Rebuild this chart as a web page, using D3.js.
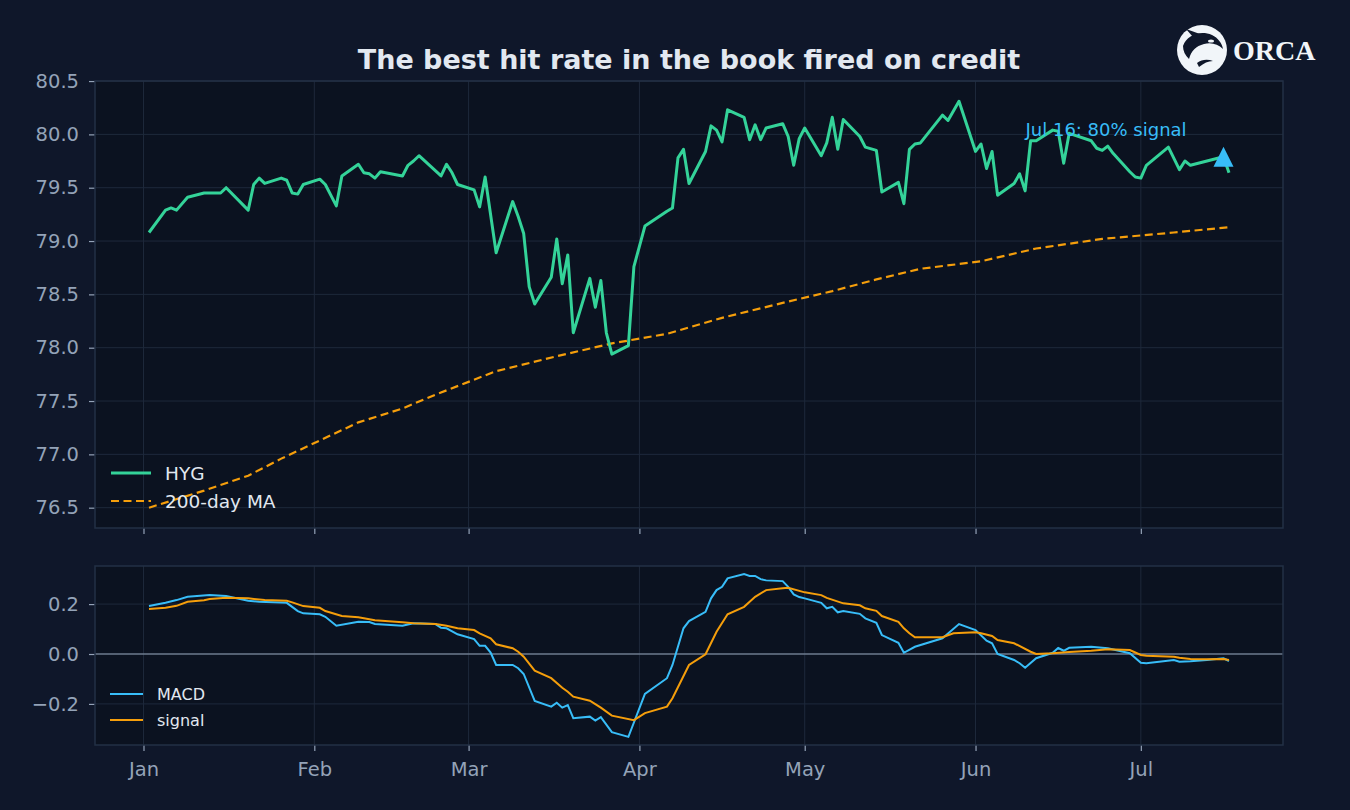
<!DOCTYPE html>
<html>
<head>
<meta charset="utf-8">
<script src="https://cdn.jsdelivr.net/npm/d3@7"></script>
<style>
  html, body { margin: 0; padding: 0; background: #0f172a; }
  svg { display: block; font-family: "DejaVu Sans", sans-serif; }
</style>
</head>
<body>
<svg width="1350" height="810"></svg>
<script>
// HYG price (trading days, 2026)
const hygDates = [
  "2026-01-02","2026-01-05","2026-01-06","2026-01-07","2026-01-09","2026-01-12","2026-01-15","2026-01-16",
  "2026-01-20","2026-01-21","2026-01-22","2026-01-23","2026-01-26","2026-01-27","2026-01-28","2026-01-29",
  "2026-01-30","2026-02-02","2026-02-03","2026-02-05","2026-02-06","2026-02-09","2026-02-10","2026-02-11",
  "2026-02-12","2026-02-13","2026-02-17","2026-02-18","2026-02-19","2026-02-20","2026-02-24","2026-02-25",
  "2026-02-26","2026-02-27","2026-03-02","2026-03-03","2026-03-04","2026-03-06","2026-03-09","2026-03-10",
  "2026-03-11","2026-03-12","2026-03-13","2026-03-16","2026-03-17","2026-03-18","2026-03-19","2026-03-20",
  "2026-03-23","2026-03-24","2026-03-25","2026-03-26","2026-03-27","2026-03-30","2026-03-31","2026-04-01",
  "2026-04-02","2026-04-06","2026-04-07","2026-04-08","2026-04-09","2026-04-10","2026-04-13","2026-04-14",
  "2026-04-15","2026-04-16","2026-04-17","2026-04-20","2026-04-21","2026-04-22","2026-04-23","2026-04-24",
  "2026-04-27","2026-04-28","2026-04-29","2026-04-30","2026-05-01","2026-05-04","2026-05-05","2026-05-06",
  "2026-05-07","2026-05-08","2026-05-11","2026-05-12","2026-05-14","2026-05-15","2026-05-18","2026-05-19",
  "2026-05-20","2026-05-21","2026-05-22","2026-05-26","2026-05-27","2026-05-29","2026-06-01","2026-06-02",
  "2026-06-03","2026-06-04","2026-06-05","2026-06-08","2026-06-09","2026-06-10","2026-06-11","2026-06-12",
  "2026-06-15","2026-06-16","2026-06-17","2026-06-18","2026-06-22","2026-06-23","2026-06-24","2026-06-25",
  "2026-06-26","2026-06-29","2026-06-30","2026-07-01","2026-07-02","2026-07-06","2026-07-08","2026-07-09",
  "2026-07-10","2026-07-16","2026-07-17"
];
const hygValues = [
  79.08, 79.29, 79.31, 79.29, 79.41, 79.45, 79.45, 79.50,
  79.29, 79.53, 79.59, 79.54, 79.59, 79.57, 79.45, 79.44,
  79.53, 79.58, 79.53, 79.33, 79.61, 79.72, 79.64, 79.63,
  79.59, 79.65, 79.61, 79.71, 79.75, 79.80, 79.61, 79.72,
  79.64, 79.53, 79.48, 79.32, 79.60, 78.89, 79.37, 79.23,
  79.07, 78.57, 78.41, 78.66, 79.02, 78.60, 78.87, 78.14,
  78.65, 78.38, 78.63, 78.14, 77.94, 78.02, 78.76, 78.95,
  79.14, 79.28, 79.31, 79.78, 79.86, 79.54, 79.84, 80.08,
  80.04, 79.93, 80.23, 80.16, 79.95, 80.09, 79.95, 80.06,
  80.10, 79.98, 79.71, 79.96, 80.06, 79.80, 79.92, 80.16,
  79.86, 80.14, 79.98, 79.88, 79.85, 79.46, 79.55, 79.35,
  79.86, 79.91, 79.92, 80.18, 80.13, 80.31, 79.84, 79.91,
  79.68, 79.84, 79.43, 79.54, 79.63, 79.47, 79.94, 79.94,
  80.04, 80.03, 79.73, 80.01, 79.94, 79.87, 79.85, 79.89,
  79.82, 79.65, 79.60, 79.59, 79.71, 79.88, 79.67, 79.75,
  79.71, 79.79, 79.64
];

// 200-day moving average
const maDates = [
  "2026-01-02","2026-01-12","2026-01-20","2026-01-26","2026-02-02","2026-02-09","2026-02-17","2026-02-23",
  "2026-03-06","2026-03-17","2026-03-27","2026-04-06","2026-04-16","2026-04-27","2026-05-06","2026-05-14",
  "2026-05-22","2026-06-02","2026-06-12","2026-06-24","2026-07-07","2026-07-17"
];
const maValues = [
  76.50, 76.66, 76.80, 76.96, 77.13, 77.30, 77.43, 77.56,
  77.78, 77.92, 78.04, 78.13, 78.28, 78.42, 78.53, 78.64,
  78.74, 78.81, 78.93, 79.02, 79.08, 79.13
];

// MACD line
const macdDates = [
  "2026-01-02","2026-01-05","2026-01-07","2026-01-09","2026-01-13","2026-01-16","2026-01-20","2026-01-22",
  "2026-01-27","2026-01-29","2026-01-30","2026-02-02","2026-02-03","2026-02-05","2026-02-09","2026-02-11",
  "2026-02-12","2026-02-17","2026-02-19","2026-02-23","2026-02-24","2026-02-25","2026-02-27","2026-03-02",
  "2026-03-03","2026-03-04","2026-03-05","2026-03-06","2026-03-09","2026-03-10","2026-03-11","2026-03-13",
  "2026-03-16","2026-03-17","2026-03-18","2026-03-19","2026-03-20","2026-03-23","2026-03-24","2026-03-25",
  "2026-03-27","2026-03-30","2026-04-02","2026-04-06","2026-04-07","2026-04-09","2026-04-10","2026-04-13",
  "2026-04-14","2026-04-15","2026-04-16","2026-04-17","2026-04-20","2026-04-21","2026-04-22","2026-04-23",
  "2026-04-24","2026-04-27","2026-04-28","2026-04-29","2026-04-30","2026-05-01","2026-05-04","2026-05-05",
  "2026-05-06","2026-05-07","2026-05-08","2026-05-11","2026-05-12","2026-05-14","2026-05-15","2026-05-18",
  "2026-05-19","2026-05-21","2026-05-26","2026-05-29","2026-06-01","2026-06-03","2026-06-04","2026-06-05",
  "2026-06-08","2026-06-09","2026-06-10","2026-06-12","2026-06-15","2026-06-16","2026-06-17","2026-06-18",
  "2026-06-22","2026-06-25","2026-06-29","2026-07-01","2026-07-02","2026-07-07","2026-07-08","2026-07-10",
  "2026-07-13","2026-07-16","2026-07-17"
];
const macdValues = [
  0.192, 0.205, 0.216, 0.229, 0.236, 0.232, 0.213, 0.209,
  0.205, 0.172, 0.163, 0.159, 0.149, 0.113, 0.129, 0.128,
  0.120, 0.113, 0.123, 0.120, 0.105, 0.103, 0.079, 0.060,
  0.033, 0.033, 0.006, -0.044, -0.044, -0.057, -0.080, -0.188,
  -0.211, -0.195, -0.215, -0.205, -0.257, -0.251, -0.267, -0.253,
  -0.313, -0.332, -0.160, -0.097, -0.044, 0.103, 0.132, 0.169,
  0.223, 0.256, 0.269, 0.303, 0.320, 0.313, 0.313, 0.300,
  0.295, 0.292, 0.269, 0.239, 0.228, 0.223, 0.205, 0.183,
  0.189, 0.167, 0.172, 0.161, 0.143, 0.125, 0.076, 0.045,
  0.005, 0.029, 0.063, 0.120, 0.096, 0.053, 0.043, 0.000,
  -0.024, -0.037, -0.055, -0.017, 0.005, 0.024, 0.013, 0.025,
  0.029, 0.023, 0.003, -0.035, -0.037, -0.024, -0.031, -0.029,
  -0.024, -0.017, -0.028
];

// signal line
const signalDates = [
  "2026-01-02","2026-01-05","2026-01-07","2026-01-09","2026-01-12","2026-01-13","2026-01-16","2026-01-20",
  "2026-01-23","2026-01-27","2026-01-28","2026-01-30","2026-02-02","2026-02-03","2026-02-06","2026-02-09",
  "2026-02-12","2026-02-17","2026-02-19","2026-02-23","2026-02-25","2026-02-27","2026-03-02","2026-03-03",
  "2026-03-05","2026-03-06","2026-03-09","2026-03-10","2026-03-11","2026-03-13","2026-03-16","2026-03-18",
  "2026-03-19","2026-03-20","2026-03-23","2026-03-24","2026-03-25","2026-03-27","2026-03-31","2026-04-02",
  "2026-04-06","2026-04-07","2026-04-10","2026-04-13","2026-04-15","2026-04-17","2026-04-20","2026-04-22",
  "2026-04-24","2026-04-27","2026-04-28","2026-05-01","2026-05-04","2026-05-05","2026-05-08","2026-05-11",
  "2026-05-12","2026-05-14","2026-05-15","2026-05-18","2026-05-19","2026-05-20","2026-05-21","2026-05-26",
  "2026-05-28","2026-06-01","2026-06-02","2026-06-04","2026-06-05","2026-06-08","2026-06-11","2026-06-12",
  "2026-06-15","2026-06-18","2026-06-22","2026-06-25","2026-06-29","2026-07-01","2026-07-02","2026-07-07",
  "2026-07-08","2026-07-10","2026-07-13","2026-07-16","2026-07-17"
];
const signalValues = [
  0.180, 0.185, 0.193, 0.209, 0.215, 0.220, 0.225, 0.223,
  0.216, 0.213, 0.207, 0.192, 0.185, 0.172, 0.152, 0.147,
  0.135, 0.127, 0.123, 0.120, 0.113, 0.103, 0.096, 0.083,
  0.063, 0.039, 0.023, 0.009, -0.011, -0.067, -0.097, -0.135,
  -0.151, -0.171, -0.187, -0.201, -0.215, -0.247, -0.265, -0.237,
  -0.211, -0.177, -0.044, -0.001, 0.089, 0.159, 0.189, 0.229,
  0.256, 0.263, 0.265, 0.247, 0.236, 0.225, 0.203, 0.195,
  0.183, 0.173, 0.152, 0.129, 0.103, 0.083, 0.067, 0.067,
  0.083, 0.087, 0.083, 0.072, 0.056, 0.043, 0.009, 0.000,
  0.003, 0.008, 0.013, 0.019, 0.016, -0.004, -0.007, -0.011,
  -0.015, -0.020, -0.021, -0.020, -0.024
];

const signalDay = "2026-07-16";
const signalLabel = "Jul 16: 80% signal";
const priceTicks = [76.5, 77.0, 77.5, 78.0, 78.5, 79.0, 79.5, 80.0, 80.5];
const macdTicks = [-0.2, 0.0, 0.2];

const parse = d3.utcParse("%Y-%m-%d");
const zip = (ds, vs) => ds.map((d, i) => ({ date: parse(d), value: vs[i] }));
const hyg = zip(hygDates, hygValues);
const ma = zip(maDates, maValues);
const macd = zip(macdDates, macdValues);
const signal = zip(signalDates, signalValues);

const bg = "#0f172a";
const panelBg = "#0b1220";
const gridColor = "#1e293b";
const tickColor = "#94a3b8";
const textColor = "#e2e8f0";
const green = "#34d399";
const orange = "#f59e0b";
const blue = "#38bdf8";

const left = 95, right = 1283;
const top1 = 81, bottom1 = 528;
const top2 = 566, bottom2 = 745;

// matplotlib-like 5% margins
const pad = (lo, hi) => [lo - (hi - lo) * 0.05, hi + (hi - lo) * 0.05];
const dExt = d3.extent(hyg, (d) => +d.date);
const x = d3.scaleUtc().domain(pad(dExt[0], dExt[1]).map((t) => new Date(t))).range([left, right]);

const pExt = d3.extent(hyg.concat(ma), (d) => d.value);
const y1 = d3.scaleLinear().domain(pad(pExt[0], pExt[1])).range([bottom1, top1]);
const mExt = d3.extent(macd.concat(signal), (d) => d.value);
const y2 = d3.scaleLinear().domain(pad(mExt[0], mExt[1])).range([bottom2, top2]);

const months = d3.utcMonth.range(new Date(Date.UTC(2026, 0, 1)), new Date(Date.UTC(2026, 7, 1)));

const svg = d3.select("svg");
svg.append("rect").attr("width", 1350).attr("height", 810).attr("fill", bg);

function panel(yScale, yTicks, yFmt, top, bottom, showX) {
  const g = svg.append("g");
  g.append("rect")
    .attr("x", left).attr("y", top)
    .attr("width", right - left).attr("height", bottom - top)
    .attr("fill", panelBg);

  // grid
  g.selectAll(".gx").data(months).enter().append("line")
    .attr("x1", (d) => x(d)).attr("x2", (d) => x(d))
    .attr("y1", top).attr("y2", bottom)
    .attr("stroke", gridColor).attr("stroke-width", 1);
  g.selectAll(".gy").data(yTicks).enter().append("line")
    .attr("x1", left).attr("x2", right)
    .attr("y1", (d) => yScale(d)).attr("y2", (d) => yScale(d))
    .attr("stroke", gridColor).attr("stroke-width", 1);

  const ya = g.append("g")
    .attr("transform", `translate(${left},0)`)
    .call(d3.axisLeft(yScale).tickValues(yTicks).tickFormat(yFmt).tickSize(6).tickPadding(10));
  ya.select(".domain").remove();
  ya.selectAll("line").attr("stroke", tickColor).attr("stroke-width", 1.2);
  ya.selectAll("text").attr("fill", tickColor).attr("font-size", 19.5)
    .attr("font-family", "DejaVu Sans");

  const xa = g.append("g")
    .attr("transform", `translate(0,${bottom})`)
    .call(d3.axisBottom(x).tickValues(months).tickFormat(showX ? d3.utcFormat("%b") : "")
      .tickSize(6).tickPadding(11));
  xa.select(".domain").remove();
  xa.selectAll("line").attr("stroke", tickColor).attr("stroke-width", 1.2);
  xa.selectAll("text").attr("fill", tickColor).attr("font-size", 19.5)
    .attr("font-family", "DejaVu Sans");
  return g;
}

const g1 = panel(y1, priceTicks, d3.format(".1f"), top1, bottom1, false);
const g2 = panel(y2, macdTicks, (d) => d3.format(".1f")(d).replace("-", "\u2212"), top2, bottom2, true);

// price panel
const line1 = d3.line().x((d) => x(d.date)).y((d) => y1(d.value));
g1.append("path").datum(ma).attr("d", line1)
  .attr("fill", "none").attr("stroke", orange).attr("stroke-width", 2.2)
  .attr("stroke-dasharray", "8,4.5");
g1.append("path").datum(hyg).attr("d", line1)
  .attr("fill", "none").attr("stroke", green).attr("stroke-width", 3)
  .attr("stroke-linejoin", "round");

const sig = hyg.find((d) => +d.date === +parse(signalDay));
const sx = x(sig.date), sy = y1(sig.value);
g1.append("path")
  .attr("d", `M${sx},${sy - 10}L${sx + 10},${sy + 10}L${sx - 10},${sy + 10}Z`)
  .attr("fill", blue);
g1.append("text")
  .attr("x", sx - 198).attr("y", sy - 21)
  .attr("fill", blue).attr("font-size", 18)
  .text(signalLabel);

// macd panel
const line2 = d3.line().x((d) => x(d.date)).y((d) => y2(d.value));
g2.append("line")
  .attr("x1", left).attr("x2", right).attr("y1", y2(0)).attr("y2", y2(0))
  .attr("stroke", tickColor).attr("stroke-width", 1.2);
g2.append("path").datum(macd).attr("d", line2)
  .attr("fill", "none").attr("stroke", blue).attr("stroke-width", 2);
g2.append("path").datum(signal).attr("d", line2)
  .attr("fill", "none").attr("stroke", orange).attr("stroke-width", 2);

// spines on top
[[top1, bottom1], [top2, bottom2]].forEach(([t, b]) => {
  svg.append("rect")
    .attr("x", left).attr("y", t).attr("width", right - left).attr("height", b - t)
    .attr("fill", "none").attr("stroke", "#233045").attr("stroke-width", 1.5);
});

// legends
const leg1 = [
  { name: "HYG", color: green, dash: null, w: 3 },
  { name: "200-day MA", color: orange, dash: "8,4.5", w: 2.2 },
];
leg1.forEach((d, i) => {
  const yy = 473 + i * 28;
  svg.append("line").attr("x1", 111).attr("x2", 151).attr("y1", yy).attr("y2", yy)
    .attr("stroke", d.color).attr("stroke-width", d.w).attr("stroke-dasharray", d.dash);
  svg.append("text").attr("x", 165).attr("y", yy + 6.5)
    .attr("fill", textColor).attr("font-size", 18.5).text(d.name);
});
const leg2 = [
  { name: "MACD", color: blue },
  { name: "signal", color: orange },
];
leg2.forEach((d, i) => {
  const yy = 694 + i * 26;
  svg.append("line").attr("x1", 110).attr("x2", 143).attr("y1", yy).attr("y2", yy)
    .attr("stroke", d.color).attr("stroke-width", 2);
  svg.append("text").attr("x", 157).attr("y", yy + 6)
    .attr("fill", textColor).attr("font-size", 16).text(d.name);
});

// title
svg.append("text")
  .attr("x", (left + right) / 2).attr("y", 69)
  .attr("text-anchor", "middle")
  .attr("fill", textColor).attr("font-size", 27).attr("font-weight", "bold")
  .text("The best hit rate in the book fired on credit");

// logo
const logo = svg.append("g").attr("transform", "translate(1202,50)");
logo.append("circle").attr("r", 25).attr("fill", "#f1f5f9");
logo.append("path")
  .attr("d", "M-19,-4 C-15,-15 -2,-20 10,-15 C16,-12 20,-7 21,-1 C16,-6 9,-8 2,-6 C-6,-4 -11,1 -13,9 C-17,5 -19,1 -19,-4 Z")
  .attr("fill", bg);
logo.append("path").attr("d", "M-9,-13 L-16,-21 L-2,-16 Z").attr("fill", bg);
logo.append("path").attr("d", "M-5,13 C0,9 6,9 11,11 C6,11 2,13 -3,17 Z").attr("fill", bg);
logo.append("ellipse").attr("cx", 9).attr("cy", -9).attr("rx", 3).attr("ry", 1.6).attr("fill", "#f1f5f9");
svg.append("text")
  .attr("x", 1233).attr("y", 60)
  .attr("fill", "#f1f5f9").attr("font-size", 28).attr("font-weight", "bold")
  .attr("font-family", "Liberation Serif, serif")
  .text("ORCA");
</script>
</body>
</html>
